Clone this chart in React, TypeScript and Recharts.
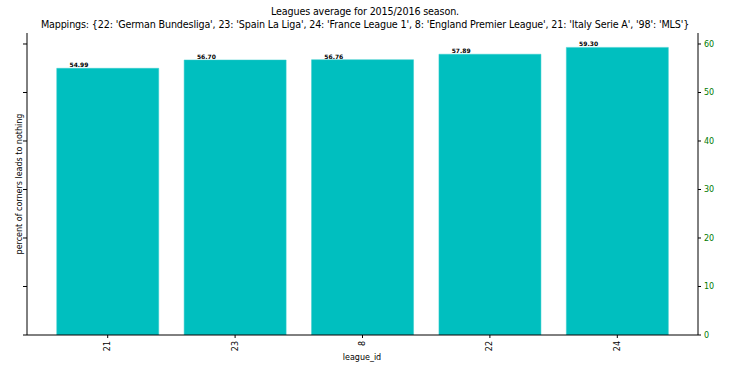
import React from 'react'
import { Bar, BarChart, LabelList, XAxis, YAxis } from 'recharts'

const leagues = ['21', '23', '8', '22', '24']
const percents = [54.99, 56.7, 56.76, 57.89, 59.3]
const yTicks = [0, 10, 20, 30, 40, 50, 60]

const data = leagues.map((l, i) => ({ league: l, pct: percents[i] }))
const yMax = Math.max(...percents) * 1.05

const font = "'DejaVu Sans', sans-serif"

function RotatedTick(props: any) {
  const { x, y, payload } = props
  return (
    <text
      transform={`translate(${x},${y + 1}) rotate(-90)`}
      textAnchor="end"
      dominantBaseline="central"
      fontSize={8}
      fontFamily={font}
      fill="#000"
    >
      {payload.value}
    </text>
  )
}

function ValueLabel(props: any) {
  const { x, y, width, value } = props
  // text starts at (i - 0.3) in data units, bar is 0.8 wide
  const left = x + width / 2 - (width / 0.8) * 0.3
  return (
    <text x={left} y={y - 1} fontSize={6} fontWeight="bold" fontFamily={font} fill="#000">
      {Number(value).toFixed(2)}
    </text>
  )
}

const titleLine: React.CSSProperties = {
  position: 'absolute',
  left: 0,
  width: 730,
  textAlign: 'center',
  fontSize: 9.6,
  lineHeight: '13px',
  whiteSpace: 'nowrap',
  letterSpacing: -0.15,
}

export default function App() {
  return (
    <div style={{ position: 'absolute', left: 0, top: 0, width: 730, height: 373, background: '#fff', fontFamily: font }}>
      <div style={{ ...titleLine, top: 5 }}>Leagues average for 2015/2016 season.</div>
      <div style={{ ...titleLine, top: 18 }}>
        Mappings: {"{22: 'German Bundesliga', 23: 'Spain La Liga', 24: 'France League 1', 8: 'England Premier League', 21: 'Italy Serie A', '98': 'MLS'}"}
      </div>
      <div
        style={{
          position: 'absolute',
          left: 20 - 100,
          top: 184 - 6,
          width: 200,
          textAlign: 'center',
          fontSize: 8,
          lineHeight: '12px',
          transform: 'rotate(-90deg)',
        }}
      >
        percent of corners leads to nothing
      </div>
      <div style={{ position: 'absolute', left: 262, top: 352, width: 200, textAlign: 'center', fontSize: 8, lineHeight: '12px' }}>
        league_id
      </div>
      <BarChart
        width={730}
        height={373}
        data={data}
        margin={{ top: 33, right: 0, bottom: 0, left: 0 }}
        barCategoryGap="10%"
        style={{ position: 'absolute', left: 0, top: 0 }}
      >
        <XAxis
          dataKey="league"
          height={38}
          padding={{ left: 17, right: 17 }}
          stroke="#000"
          tickSize={3}
          tick={<RotatedTick />}
          interval={0}
        />
        <XAxis
          xAxisId="top"
          orientation="top"
          dataKey="league"
          height={0}
          stroke="#000"
          tick={false}
          tickLine={false}
        />
        <YAxis
          yAxisId="left"
          width={27}
          domain={[0, yMax]}
          ticks={yTicks}
          stroke="#000"
          tickSize={4}
          tick={() => <g />}
          allowDataOverflow
        />
        <YAxis
          yAxisId="right"
          orientation="right"
          width={32}
          domain={[0, yMax]}
          ticks={yTicks}
          stroke="#000"
          tickSize={3}
          tickMargin={3}
          tick={{ fill: '#007a00', fontSize: 8, fontFamily: font, textAnchor: 'start' }}
          allowDataOverflow
        />
        <Bar dataKey="pct" yAxisId="left" fill="#00bfbf" stroke="#33cccc" strokeWidth={0.5} isAnimationActive={false}>
          <LabelList dataKey="pct" content={<ValueLabel />} />
        </Bar>
      </BarChart>
    </div>
  )
}
